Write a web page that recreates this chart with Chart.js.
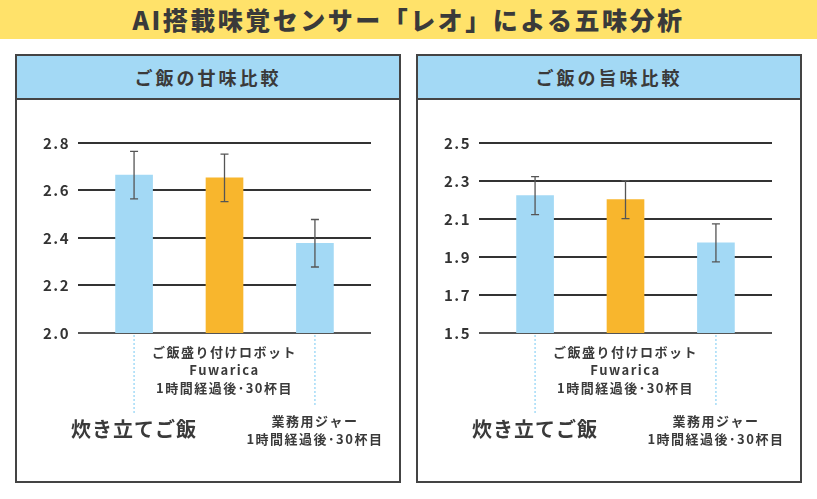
<!DOCTYPE html>
<html lang="ja">
<head>
  <meta charset="UTF-8">
  <title>AI搭載味覚センサー「レオ」による五味分析</title>
  <script src="https://cdn.jsdelivr.net/npm/chart.js"></script>
  <style>
    body {
      margin: 0;
      width: 817px;
      height: 499px;
      background: #fff;
      font-family: 'Noto Sans CJK JP', sans-serif;
      color: #3a3a3a;
      position: relative;
      overflow: hidden;
    }
    .banner {
      position: absolute;
      left: 0; top: 0;
      width: 817px; height: 39px;
      background: #ffe26a;
      text-align: center;
      line-height: 39px;
      font-size: 25px;
      font-weight: 900;
      letter-spacing: 2.5px;
    }
    .panel {
      position: absolute;
      top: 54px;
      width: 386px;
      height: 429px;
      border: 2px solid #444;
      box-sizing: border-box;
    }
    .panel .head {
      height: 42px;
      background: #a3d9f5;
      border-bottom: 2px solid #444;
      text-align: center;
      line-height: 42px;
      font-size: 18px;
      font-weight: 700;
      letter-spacing: 3px;
    }
    .panel canvas {
      position: absolute;
      left: 0; top: 44px;
    }
  </style>
</head>
<body>
  <div class="banner">AI搭載味覚センサー「レオ」による五味分析</div>
  <div class="panel" style="left:15px">
    <div class="head">ご飯の甘味比較</div>
    <canvas id="sweetChart" width="382" height="381"></canvas>
  </div>
  <div class="panel" style="left:416px">
    <div class="head">ご飯の旨味比較</div>
    <canvas id="umamiChart" width="382" height="381"></canvas>
  </div>
  <script>
    // カテゴリ(各行)
    const categoryLines = [
      ['炊き立てご飯'],
      ['ご飯盛り付けロボット', 'Fuwarica', '1時間経過後･30杯目'],
      ['業務用ジャー', '1時間経過後･30杯目']
    ];
    const barColors = ['#a3d9f5', '#f8b62d', '#a3d9f5'];

    // 甘味
    const sweetValues = [2.665, 2.653, 2.378];
    const sweetErrors = [0.1, 0.1, 0.1];
    const sweetTicks = [2.0, 2.2, 2.4, 2.6, 2.8];

    // 旨味
    const umamiValues = [2.223, 2.202, 1.974];
    const umamiErrors = [0.1, 0.1, 0.1];
    const umamiTicks = [1.5, 1.7, 1.9, 2.1, 2.3, 2.5];

    // ラベルの見た目 (カテゴリごと)
    const labelStyle = [
      { size: 20, spacing: 1, first: 96, gap: 0, guide: 80 },
      { size: 13, spacing: 1.5, first: 19, gap: 18, guide: 0 },
      { size: 13, spacing: 1.5, first: 88, gap: 18, guide: 74 }
    ];

    const decoPlugin = {
      id: 'deco',
      beforeDraw(chart) {
        chart.ctx.letterSpacing = '1.5px';
      },
      afterDatasetsDraw(chart, args, opts) {
        const ctx = chart.ctx;
        const x = chart.scales.x, y = chart.scales.y;
        const base = chart.chartArea.bottom;
        ctx.save();
        // エラーバー
        opts.values.forEach((v, i) => {
          const cx = x.getPixelForValue(i);
          const top = y.getPixelForValue(v + opts.errors[i]);
          const bot = y.getPixelForValue(v - opts.errors[i]);
          ctx.strokeStyle = '#555';
          ctx.lineWidth = 1.3;
          ctx.beginPath();
          ctx.moveTo(cx, top); ctx.lineTo(cx, bot);
          ctx.moveTo(cx - 4, top); ctx.lineTo(cx + 4, top);
          ctx.moveTo(cx - 4, bot); ctx.lineTo(cx + 4, bot);
          ctx.stroke();
        });
        // ラベルと点線
        categoryLines.forEach((lines, i) => {
          const cx = x.getPixelForValue(i);
          const st = labelStyle[i];
          if (st.guide) {
            ctx.strokeStyle = '#8ed3f5';
            ctx.lineWidth = 1.2;
            ctx.setLineDash([2, 2]);
            ctx.beginPath();
            ctx.moveTo(cx, base + 2); ctx.lineTo(cx, base + st.guide);
            ctx.stroke();
            ctx.setLineDash([]);
          }
          ctx.fillStyle = '#3a3a3a';
          ctx.font = `bold ${st.size}px 'Noto Sans CJK JP'`;
          ctx.letterSpacing = st.spacing + 'px';
          ctx.textAlign = 'center';
          ctx.textBaseline = 'middle';
          lines.forEach((t, k) => {
            ctx.fillText(t, cx, base + st.first + k * st.gap);
          });
        });
        ctx.restore();
      }
    };

    function makeChart(id, values, errors, ticks) {
      new Chart(document.getElementById(id), {
        type: 'bar',
        data: {
          datasets: [{
            data: values.map((v, i) => ({ x: i, y: v })),
            backgroundColor: barColors,
            barThickness: 37
          }]
        },
        options: {
          responsive: false,
          animation: false,
          layout: { padding: { left: 0, top: 43, right: 28, bottom: 148 } },
          plugins: {
            legend: { display: false },
            tooltip: { enabled: false },
            deco: { values, errors }
          },
          scales: {
            x: { type: 'linear', display: false, offset: false, min: -0.62, max: 2.62 },
            y: {
              min: ticks[0],
              max: ticks[ticks.length - 1],
              afterFit(scale) { scale.width = 61; },
              afterBuildTicks(scale) { scale.ticks = ticks.map(v => ({ value: v })); },
              ticks: {
                padding: 8,
                color: '#333',
                font: { family: "'Noto Sans CJK JP'", size: 15, weight: 'bold' },
                callback: v => v.toFixed(1)
              },
              grid: {
                drawTicks: false,
                lineWidth: 2,
                color: c => c.index === 0 ? '#555' : '#333'
              },
              border: { display: false }
            }
          }
        },
        plugins: [decoPlugin]
      });
    }

    makeChart('sweetChart', sweetValues, sweetErrors, sweetTicks);
    makeChart('umamiChart', umamiValues, umamiErrors, umamiTicks);
  </script>
</body>
</html>
